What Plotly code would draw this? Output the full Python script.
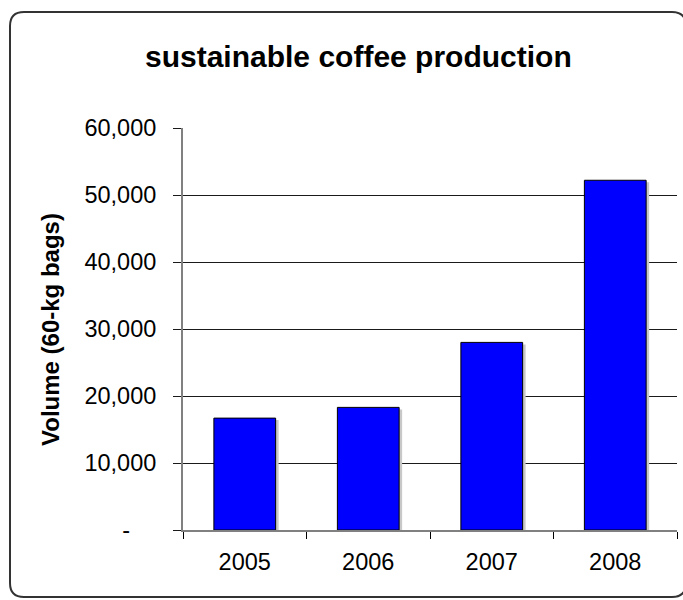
import plotly.graph_objects as go

# Data
years = ["2005", "2006", "2007", "2008"]
volumes = [16700, 18300, 28000, 52200]
y_ticks = [0, 10000, 20000, 30000, 40000, 50000, 60000]
y_tick_labels = ["-\u00a0\u00a0\u00a0\u00a0", "10,000", "20,000", "30,000", "40,000", "50,000", "60,000"]

title_text = "sustainable coffee production"
y_title = "Volume (60-kg bags)"

W, H = 683, 600
ML, MR, MT, MB = 183, 6, 128, 70
PW, PH = W - ML - MR, H - MT - MB


def px(x):
    return (x - ML) / PW


def py(y):
    return (H - MB - y) / PH


FONT = "Liberation Sans, Arial, sans-serif"

fig = go.Figure()

# soft drop shadow behind the bars
shadow_dy = 2 * 60000 / PH
fig.add_trace(go.Bar(
    x=years, y=[v - shadow_dy for v in volumes],
    width=0.5, offset=-0.25 + 3 / (PW / 4),
    marker=dict(color="#c8c8c8", line=dict(width=0)),
    hoverinfo="skip", showlegend=False,
))
fig.add_trace(go.Bar(
    x=years, y=volumes,
    width=0.5, offset=-0.25,
    marker=dict(color="#0000ff", line=dict(color="#000000", width=1)),
    showlegend=False,
))

fig.update_layout(
    width=W, height=H,
    margin=dict(l=ML, r=MR, t=MT, b=MB, autoexpand=False),
    paper_bgcolor="white", plot_bgcolor="white",
    barmode="overlay",
    font=dict(family=FONT, color="#000000"),
    xaxis=dict(
        type="category",
        showgrid=False,
        showline=True, linecolor="#808080", linewidth=2,
        ticks="outside", tickson="boundaries", ticklen=7, tickcolor="#000000", tickwidth=1,
        tickfont=dict(size=23.5, family=FONT, color="#000000"),
        ticklabelstandoff=10,
        automargin=False,
    ),
    yaxis=dict(
        range=[0, 60000],
        tickvals=y_ticks, ticktext=y_tick_labels,
        showgrid=True, gridcolor="#1a1a1a", gridwidth=1,
        showline=True, linecolor="#808080", linewidth=2,
        ticks="outside", ticklen=8, tickcolor="#1a1a1a", tickwidth=1,
        tickfont=dict(size=23.5, family=FONT, color="#000000"),
        ticklabelstandoff=12,
        zeroline=False,
        automargin=False,
    ),
    annotations=[
        dict(text="<b>%s</b>" % title_text, xref="paper", yref="paper",
             x=px(358), y=py(57), xanchor="center", yanchor="middle",
             showarrow=False, font=dict(size=30, family=FONT, color="#000000")),
        dict(text="<b>%s</b>" % y_title, xref="paper", yref="paper",
             x=px(50), y=py(330), xanchor="center", yanchor="middle",
             textangle=-90, showarrow=False,
             font=dict(size=24, family=FONT, color="#000000")),
    ],
)

# rounded frame around the chart area (right edge runs past the page)
x0, y0, x1, y1, r = 10, 12, 686, 597, 14
frame = (
    f"M {px(x0)},{py(y0 + r)} "
    f"Q {px(x0)},{py(y0)} {px(x0 + r)},{py(y0)} "
    f"L {px(x1 - r)},{py(y0)} "
    f"Q {px(x1)},{py(y0)} {px(x1)},{py(y0 + r)} "
    f"L {px(x1)},{py(y1 - r)} "
    f"Q {px(x1)},{py(y1)} {px(x1 - r)},{py(y1)} "
    f"L {px(x0 + r)},{py(y1)} "
    f"Q {px(x0)},{py(y1)} {px(x0)},{py(y1 - r)} Z"
)
fig.add_shape(type="path", path=frame, xref="paper", yref="paper",
              line=dict(color="#333333", width=2), layer="below")

fig.write_html("out.html")
